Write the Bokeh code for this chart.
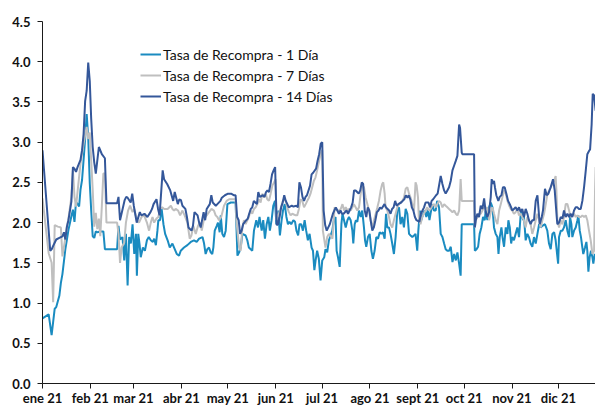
import pandas as pd
from bokeh.plotting import figure
from bokeh.models import Range1d, FixedTicker, Legend, LegendItem
from bokeh.embed import file_html
from bokeh.resources import INLINE

inicio = pd.Timestamp("2021-01-01")
meses = ["ene 21", "feb 21", "mar 21", "abr 21", "may 21", "jun 21",
         "jul 21", "ago 21", "sept 21", "oct 21", "nov 21", "dic 21"]
y_ticks = [0.0, 0.5, 1.0, 1.5, 2.0, 2.5, 3.0, 3.5, 4.0, 4.5]
nombres = ["Tasa de Recompra - 1 Día", "Tasa de Recompra - 7 Días", "Tasa de Recompra - 14 Días"]
colores = ["#1A8BC0", "#BFBFBF", "#34579A"]

# días transcurridos desde el 1 de enero de 2021
dias_1d = [0, 4.0, 5.9, 7.9, 8.9, 10.9, 11.9, 12.9, 14.8, 15.8, 16.8, 18.7, 19.7, 20.7, 21.7, 23.7, 24.6, 25.6, 26.6, 27.6,
           28.6, 29.6, 30.6, 31.5, 32.5, 33.5, 34.5, 35.5, 37.4, 39.4, 40.4, 48.3, 49.2, 50.2, 51.8, 52.9, 54.0, 55.1, 56.1, 57.2,
           58.3, 59.4, 60.5, 61.1, 62.0, 62.9, 63.6, 65.0, 66.3, 67.6, 68.8, 70.1, 71.4, 72.3, 73.4, 74.4, 75.0, 76.1, 77.0, 78.3,
           79.4, 81.0, 82.4, 84.1, 85.6, 86.9, 88.4, 89.5, 91.6, 93.8, 96.0, 98.1, 99.8, 101.4, 103.6, 104.6, 105.6, 106.7, 107.8, 108.9,
           109.9, 110.6, 111.5, 112.8, 113.6, 114.7, 115.4, 116.4, 117.5, 118.6, 119.7, 121.9, 125.0, 126.2, 127.3, 128.3, 129.4, 131.5, 132.6, 133.6,
           135.8, 136.9, 138.4, 139.5, 140.5, 141.9, 142.9, 144.0, 145.1, 146.2, 147.2, 148.3, 149.4, 150.5, 151.4, 152.6, 153.7, 154.8, 155.7, 156.8,
           157.9, 158.9, 159.9, 161.0, 162.4, 163.5, 164.4, 165.5, 166.4, 167.5, 168.6, 169.7, 170.7, 171.8, 172.9, 174.2, 175.1, 176.0, 176.8, 177.8,
           178.9, 180.0, 181.1, 182.4, 183.2, 184.3, 185.4, 186.5, 187.6, 188.6, 189.7, 190.4, 191.3, 192.4, 193.5, 194.2, 195.2, 196.3, 197.4, 198.4,
           199.5, 200.6, 201.2, 202.1, 202.9, 203.8, 204.9, 206.0, 207.0, 208.1, 208.8, 209.6, 210.7, 211.8, 212.9, 213.9, 215.0, 216.1, 217.2, 218.3,
           219.3, 220.4, 221.5, 222.4, 223.2, 224.3, 225.3, 226.4, 227.5, 228.6, 229.7, 230.8, 231.8, 232.9, 234.0, 235.1, 236.2, 237.3, 238.3, 239.4,
           240.5, 241.5, 242.6, 243.3, 244.3, 245.2, 246.5, 247.4, 248.5, 249.5, 250.5, 251.2, 252.3, 253.4, 254.5, 255.5, 256.7, 257.8, 258.9, 260.0,
           261.0, 262.1, 263.2, 264.3, 265.4, 266.5, 267.6, 268.6, 269.7, 270.7, 271.4, 279.4, 279.9, 281.0, 282.0, 283.0, 284.1, 285.2, 286.3, 286.9,
           288.0, 289.1, 290.2, 291.3, 292.3, 293.4, 294.5, 295.2, 296.0, 297.1, 297.8, 298.8, 299.9, 301.0, 301.6, 302.5, 303.4, 304.1, 305.2, 306.3,
           307.4, 308.5, 309.6, 310.2, 311.1, 311.7, 312.8, 313.9, 314.9, 316.0, 317.1, 318.2, 319.3, 320.4, 321.5, 322.5, 323.6, 325.3, 326.8, 327.9,
           329.0, 330.1, 331.2, 332.2, 332.9, 333.8, 334.4, 335.5, 336.6, 337.6, 338.7, 339.8, 340.9, 341.5, 342.4, 343.0, 344.1, 345.2, 346.3, 346.9,
           347.8, 348.6, 349.5, 350.1, 351.2, 352.1, 352.7, 353.4, 354.2, 355.1, 356.0, 356.6, 357.5, 358.1]
tasa_1d = [0.81, 0.86, 0.60, 0.93, 0.95, 1.09, 1.25, 1.36, 1.67, 1.79, 1.91, 2.08, 2.16, 2.01, 2.26, 2.20, 2.41, 2.53, 2.78, 3.04,
           3.35, 3.06, 2.49, 2.16, 1.83, 1.81, 1.89, 1.88, 1.89, 1.89, 1.67, 1.67, 1.96, 1.79, 1.82, 1.53, 1.86, 1.22, 1.82, 1.74,
           1.98, 1.61, 1.86, 1.34, 1.86, 1.72, 1.57, 1.69, 1.65, 1.78, 1.82, 1.78, 1.76, 1.80, 1.72, 1.90, 2.03, 2.03, 2.19, 1.98,
           1.86, 1.78, 1.69, 1.74, 1.67, 1.61, 1.59, 1.65, 1.69, 1.72, 1.76, 1.78, 1.76, 1.80, 1.82, 1.74, 1.61, 1.67, 1.69, 1.63,
           1.61, 1.69, 1.90, 1.96, 2.00, 1.88, 2.09, 1.86, 1.82, 1.90, 2.23, 2.25, 2.25, 1.59, 1.63, 1.69, 1.86, 1.84, 1.78, 1.69,
           1.65, 1.90, 2.03, 1.94, 2.07, 1.90, 2.03, 1.80, 1.98, 2.07, 1.90, 2.03, 2.21, 2.27, 1.98, 2.15, 1.84, 2.03, 2.15, 2.23,
           2.07, 1.98, 2.01, 1.98, 2.03, 2.01, 1.90, 1.84, 1.98, 1.98, 1.90, 2.03, 1.90, 1.78, 1.86, 1.69, 1.65, 1.41, 1.53, 1.65,
           1.55, 1.28, 1.53, 1.57, 1.67, 1.63, 1.78, 1.84, 1.90, 2.03, 2.07, 1.65, 1.57, 1.45, 1.98, 2.11, 2.03, 1.94, 2.03, 2.07,
           2.03, 1.90, 1.74, 1.98, 2.03, 2.01, 2.15, 2.07, 2.15, 1.94, 1.78, 1.70, 1.82, 1.86, 1.65, 1.55, 1.65, 1.82, 1.80, 1.88,
           1.86, 1.88, 1.80, 2.11, 1.94, 1.94, 1.86, 1.74, 1.61, 1.82, 2.15, 2.19, 1.98, 2.07, 1.94, 2.17, 2.11, 1.86, 1.84, 1.82,
           1.84, 1.86, 1.65, 1.90, 2.15, 2.03, 2.11, 2.15, 2.07, 2.17, 2.03, 2.11, 2.23, 2.15, 2.15, 2.27, 2.19, 1.86, 1.82, 1.74,
           1.67, 1.65, 1.65, 1.70, 1.51, 1.61, 1.53, 1.63, 1.49, 1.34, 1.98, 1.98, 1.65, 1.67, 1.70, 1.86, 1.94, 2.07, 2.03, 2.15,
           2.03, 2.19, 2.25, 2.19, 1.94, 1.86, 1.82, 1.61, 1.82, 1.94, 1.82, 1.70, 1.94, 1.86, 2.03, 1.94, 1.74, 1.82, 1.78, 1.86,
           1.94, 1.82, 2.11, 2.13, 2.03, 2.07, 1.78, 1.86, 1.82, 1.74, 1.70, 1.82, 1.74, 1.86, 1.98, 1.94, 1.96, 1.98, 1.90, 1.74,
           1.67, 1.86, 1.88, 1.78, 1.65, 1.49, 1.82, 1.90, 1.90, 1.94, 2.03, 1.90, 1.82, 2.07, 1.98, 1.82, 1.90, 1.94, 2.03, 2.09,
           1.90, 1.82, 1.69, 1.61, 1.69, 1.76, 1.65, 1.39, 1.57, 1.65, 1.57, 1.49, 1.61, 1.57]

dias_7d = [0, 4.0, 5.9, 6.9, 7.9, 9.9, 11.9, 12.9, 14.8, 15.8, 16.8, 18.7, 19.7, 20.7, 21.7, 23.7, 24.6, 25.6, 26.6, 28.6,
           29.6, 30.6, 31.5, 32.5, 33.5, 34.5, 35.5, 36.5, 37.4, 38.4, 39.4, 40.4, 41.4, 48.3, 49.2, 50.2, 51.2, 52.9, 54.0, 55.4,
           56.7, 58.3, 59.4, 61.1, 62.5, 64.1, 65.8, 67.6, 69.0, 70.1, 71.2, 72.3, 73.8, 75.0, 76.1, 77.5, 78.8, 81.0, 83.1, 84.1,
           85.2, 86.2, 87.8, 89.1, 90.6, 92.0, 93.8, 95.3, 96.4, 97.6, 99.2, 100.7, 102.0, 103.1, 104.6, 106.3, 107.8, 109.4, 111.0, 112.1,
           113.2, 114.3, 115.7, 117.5, 119.2, 120.8, 125.0, 125.5, 127.3, 128.3, 129.4, 130.4, 131.5, 132.6, 133.6, 134.7, 135.8, 136.9, 138.0, 139.1,
           140.1, 141.2, 142.3, 143.4, 144.5, 145.5, 146.6, 147.7, 148.8, 149.9, 150.9, 151.5, 153.0, 154.1, 155.2, 156.3, 157.4, 158.4, 159.5, 160.6,
           161.7, 163.9, 164.9, 166.0, 167.1, 168.2, 169.3, 170.4, 171.4, 172.5, 173.5, 175.7, 176.7, 177.8, 178.9, 180.0, 181.1, 181.5, 183.2, 184.3,
           185.4, 187.7, 189.1, 190.9, 192.0, 193.1, 194.2, 195.2, 196.3, 197.4, 198.4, 199.5, 200.6, 201.6, 202.7, 203.8, 204.9, 206.0, 207.0, 208.1,
           209.2, 210.3, 211.4, 212.4, 213.5, 214.6, 215.7, 216.8, 217.8, 218.9, 219.9, 220.6, 221.5, 222.1, 223.2, 224.3, 225.3, 226.4, 227.5, 228.6,
           229.7, 230.8, 231.8, 232.9, 234.0, 235.1, 236.2, 237.3, 238.3, 239.4, 240.5, 241.5, 242.2, 243.1, 243.6, 244.7, 245.8, 246.9, 248.0, 249.1,
           250.1, 251.2, 252.3, 253.4, 254.6, 255.6, 256.7, 257.8, 258.9, 260.0, 261.0, 262.1, 263.2, 264.3, 265.4, 266.5, 267.6, 268.6, 269.7, 270.7,
           271.4, 279.4, 279.9, 280.5, 281.5, 282.6, 283.7, 284.8, 285.9, 286.9, 288.0, 289.1, 290.2, 291.3, 292.3, 293.4, 294.5, 295.6, 296.7, 297.8,
           298.8, 299.9, 301.0, 302.1, 303.1, 304.1, 305.2, 306.3, 307.4, 308.5, 309.6, 310.6, 311.7, 312.8, 313.9, 314.9, 316.0, 317.1, 318.2, 319.3,
           320.4, 321.5, 322.5, 323.6, 324.7, 325.8, 326.9, 328.0, 329.0, 330.1, 331.2, 332.2, 332.7, 333.3, 334.4, 335.4, 336.6, 337.6, 338.7, 339.8,
           340.9, 341.9, 343.0, 344.1, 345.2, 346.3, 347.3, 348.4, 349.5, 350.6, 351.7, 352.7, 353.8, 354.9, 356.0, 357.1, 357.7, 358.1]
tasa_7d = [2.30, 1.62, 1.50, 1.01, 1.97, 1.95, 1.94, 1.58, 1.81, 1.95, 2.05, 2.32, 2.65, 2.32, 2.20, 2.57, 2.73, 2.86, 2.98, 3.19,
           3.04, 3.12, 2.78, 2.41, 1.95, 2.12, 1.92, 2.05, 1.83, 2.20, 2.61, 2.61, 2.00, 2.00, 1.86, 1.50, 1.69, 1.75, 2.00, 2.15,
           2.21, 2.13, 2.17, 2.03, 2.00, 2.07, 2.09, 2.00, 1.90, 2.00, 2.07, 2.00, 2.05, 2.07, 2.17, 2.19, 2.17, 2.17, 2.21, 2.17,
           2.15, 2.17, 2.15, 2.09, 2.15, 2.09, 2.00, 1.80, 1.84, 1.96, 1.86, 1.96, 2.00, 1.90, 2.05, 2.09, 2.13, 2.17, 2.15, 2.09,
           2.07, 2.03, 2.07, 2.21, 2.27, 2.29, 2.29, 2.03, 1.69, 1.65, 1.94, 2.03, 1.98, 2.03, 2.07, 2.15, 2.11, 2.17, 2.19, 2.23,
           2.29, 2.25, 2.36, 2.31, 2.36, 2.29, 2.27, 2.36, 2.46, 2.50, 2.54, 2.03, 2.11, 2.17, 2.25, 2.29, 2.27, 2.19, 2.13, 2.09,
           2.11, 2.09, 2.09, 2.17, 2.29, 2.27, 2.19, 2.23, 2.27, 2.31, 2.36, 2.52, 2.56, 2.65, 2.75, 2.85, 2.90, 1.90, 1.69, 1.82,
           1.86, 1.80, 2.19, 2.15, 2.15, 2.17, 2.23, 2.15, 2.19, 2.15, 2.17, 2.15, 2.19, 2.23, 2.19, 2.15, 2.19, 2.36, 2.46, 2.44,
           2.31, 2.23, 2.15, 2.03, 1.94, 2.03, 2.11, 2.19, 2.27, 2.40, 2.48, 2.50, 2.36, 2.19, 2.15, 2.07, 1.98, 1.94, 2.03, 2.11,
           2.19, 2.23, 2.25, 2.27, 2.31, 2.42, 2.44, 2.36, 2.31, 2.23, 2.15, 2.50, 2.46, 2.31, 2.07, 1.98, 2.07, 2.11, 2.15, 2.19,
           2.15, 2.17, 2.21, 2.23, 2.19, 2.23, 2.27, 2.25, 2.19, 2.23, 2.21, 2.19, 2.17, 2.15, 2.13, 2.15, 2.11, 2.09, 2.15, 2.54,
           2.27, 2.27, 1.94, 2.03, 2.07, 2.11, 2.11, 2.15, 2.19, 2.17, 2.19, 2.03, 2.13, 2.19, 2.11, 2.03, 1.98, 2.15, 2.23, 2.32,
           2.40, 2.36, 2.27, 2.21, 2.17, 2.15, 2.11, 2.13, 2.17, 2.09, 2.11, 2.07, 2.03, 1.94, 2.07, 2.03, 1.98, 1.86, 1.94, 2.03,
           2.11, 2.03, 1.94, 2.03, 2.11, 2.23, 2.36, 2.40, 2.44, 2.48, 2.52, 2.58, 2.40, 2.03, 1.94, 2.03, 1.98, 2.07, 2.23, 2.23,
           2.15, 2.07, 2.09, 2.11, 2.07, 2.09, 2.07, 2.07, 2.09, 2.07, 2.09, 2.03, 1.90, 1.78, 1.61, 1.65, 2.40, 2.69]

dias_14d = [0, 5.0, 6.0, 6.9, 8.9, 10.9, 12.9, 13.9, 14.8, 15.8, 16.8, 18.7, 19.7, 20.7, 21.7, 22.7, 24.6, 25.6, 26.6, 27.6,
            28.6, 29.6, 30.6, 31.5, 32.5, 33.5, 34.5, 36.5, 38.4, 40.4, 41.4, 48.3, 49.2, 50.2, 53.2, 54.2, 55.1, 57.1, 58.1, 59.1,
            61.0, 63.0, 64.0, 66.0, 67.9, 69.9, 70.9, 71.9, 73.8, 74.8, 75.8, 77.8, 78.7, 80.7, 82.7, 84.6, 85.6, 87.6, 88.6, 89.6,
            90.6, 92.5, 93.5, 94.5, 96.5, 97.4, 98.4, 100.4, 101.4, 102.4, 104.3, 105.3, 106.3, 108.3, 109.3, 110.2, 112.2, 113.2, 115.2, 116.1,
            118.1, 120.1, 122.1, 124.0, 125.0, 126.0, 127.0, 127.9, 128.9, 129.9, 131.9, 132.9, 133.8, 134.8, 135.8, 136.8, 137.8, 138.8, 139.7, 140.7,
            142.7, 143.7, 144.7, 145.6, 146.6, 147.6, 148.6, 149.6, 150.6, 151.6, 152.5, 153.5, 154.5, 155.5, 156.5, 157.5, 158.5, 159.4, 161.4, 162.4,
            164.4, 165.3, 166.3, 167.3, 168.3, 169.3, 170.3, 171.2, 172.2, 173.2, 174.2, 175.2, 177.1, 178.1, 179.1, 180.1, 181.1, 182.0, 183.0, 184.0,
            185.0, 186.0, 188.0, 188.9, 189.9, 190.9, 191.9, 192.9, 193.9, 194.9, 196.8, 197.8, 198.8, 199.8, 200.8, 201.7, 202.7, 203.7, 204.7, 205.7,
            206.7, 207.6, 208.6, 209.6, 210.6, 211.6, 212.6, 213.5, 214.5, 215.5, 216.5, 217.5, 218.5, 219.4, 221.4, 222.4, 223.4, 224.4, 225.3, 226.3,
            227.3, 228.3, 229.3, 230.3, 232.2, 233.2, 234.2, 235.2, 236.2, 237.1, 238.1, 239.1, 240.1, 241.1, 242.1, 244.0, 245.0, 246.0, 247.0, 248.0,
            248.9, 249.9, 250.9, 251.9, 252.9, 254.8, 255.8, 257.8, 258.9, 260.0, 261.0, 262.1, 263.2, 264.3, 265.4, 266.5, 267.6, 268.6, 269.7, 270.3,
            271.4, 271.8, 279.4, 279.9, 280.5, 281.5, 282.6, 283.7, 284.8, 285.9, 286.9, 288.0, 289.1, 290.2, 290.8, 291.6, 292.3, 292.9, 293.8, 295.1,
            296.0, 297.1, 298.1, 299.2, 300.3, 301.4, 302.5, 303.4, 304.1, 305.2, 306.3, 307.4, 308.5, 309.6, 310.6, 311.7, 312.8, 313.9, 314.9, 316.0,
            317.1, 318.2, 319.3, 320.4, 321.9, 323.2, 324.0, 325.3, 326.4, 327.5, 329.0, 330.5, 331.6, 332.9, 333.3, 334.4, 335.5, 336.6, 337.6, 338.7,
            339.8, 340.9, 341.9, 343.0, 344.1, 345.2, 346.3, 347.3, 348.4, 349.5, 350.6, 351.7, 352.7, 353.8, 354.5, 355.5, 356.2, 357.1, 358.1]
tasa_14d = [2.90, 1.65, 1.67, 1.71, 1.79, 1.81, 1.83, 1.88, 1.79, 1.95, 2.03, 2.26, 2.69, 2.67, 2.63, 2.69, 2.78, 2.90, 3.10, 3.51,
            3.64, 3.99, 3.76, 3.30, 2.94, 2.75, 2.61, 2.94, 2.85, 2.80, 2.24, 2.24, 2.32, 2.03, 2.28, 2.32, 2.31, 2.25, 2.36, 2.21,
            2.00, 2.13, 2.09, 2.11, 2.07, 2.13, 2.17, 2.23, 2.29, 2.17, 2.09, 2.65, 2.54, 2.48, 2.40, 2.27, 2.38, 2.23, 2.29, 2.28,
            2.21, 2.17, 2.07, 1.94, 1.90, 1.96, 2.13, 2.09, 2.00, 1.94, 2.13, 2.03, 2.17, 2.23, 2.34, 2.25, 2.21, 2.23, 2.27, 2.31,
            2.34, 2.36, 2.36, 2.34, 2.34, 2.07, 2.03, 1.86, 1.90, 1.98, 2.03, 2.05, 2.11, 2.17, 2.19, 2.27, 2.25, 2.23, 2.38, 2.32,
            2.34, 2.32, 2.38, 2.40, 2.38, 2.48, 2.60, 2.65, 2.69, 1.97, 1.98, 2.07, 2.19, 2.25, 2.34, 2.27, 2.23, 2.19, 2.21, 2.20,
            2.21, 2.19, 2.50, 2.44, 2.32, 2.27, 2.32, 2.34, 2.40, 2.46, 2.60, 2.62, 2.67, 2.77, 2.85, 2.98, 3.00, 2.15, 1.97, 1.90,
            1.94, 1.98, 2.11, 2.15, 2.19, 2.15, 2.11, 2.15, 2.11, 2.11, 2.15, 2.11, 2.15, 2.19, 2.25, 2.40, 2.40, 2.38, 2.36, 2.40,
            2.50, 2.48, 2.15, 2.07, 2.19, 2.15, 2.01, 1.90, 1.94, 2.03, 2.13, 2.15, 2.19, 2.17, 2.23, 2.19, 2.17, 2.15, 2.11, 2.17,
            2.19, 2.27, 2.21, 2.23, 2.25, 2.27, 2.29, 2.34, 2.31, 2.34, 2.29, 2.19, 2.15, 2.07, 2.03, 2.01, 2.11, 2.15, 2.19, 2.25,
            2.25, 2.25, 2.19, 2.27, 2.29, 2.34, 2.36, 2.58, 2.48, 2.40, 2.36, 2.40, 2.44, 2.52, 2.65, 2.71, 2.77, 2.83, 3.22, 3.18,
            2.87, 2.85, 2.85, 1.94, 2.03, 2.11, 2.07, 2.21, 2.17, 2.30, 2.13, 2.07, 2.13, 2.32, 2.54, 2.48, 2.52, 2.44, 2.34, 2.27,
            2.32, 2.34, 2.44, 2.44, 2.36, 2.27, 2.23, 2.19, 2.15, 2.17, 2.19, 2.15, 2.19, 2.13, 2.17, 2.07, 2.17, 2.11, 2.03, 1.98,
            2.03, 2.03, 2.27, 2.34, 1.98, 2.07, 2.15, 2.42, 2.34, 2.36, 2.44, 2.54, 2.40, 2.07, 1.98, 2.00, 2.07, 2.05, 2.15, 2.07,
            2.11, 2.07, 2.11, 2.07, 2.15, 2.19, 2.19, 2.17, 2.17, 2.27, 2.44, 2.65, 2.85, 2.89, 2.91, 3.22, 3.60, 3.58, 3.39]

meses_inicio = pd.date_range("2021-01-01", periods=12, freq="MS")


def fechas(dias):
    return inicio + pd.to_timedelta(dias, unit="D")


p = figure(width=595, height=408, x_axis_type="datetime", output_backend="svg", toolbar_location=None,
           min_border_left=42, min_border_right=0, min_border_top=21, min_border_bottom=24)
p.x_range = Range1d(inicio, inicio + pd.Timedelta(days=358))
p.y_range = Range1d(0, 4.5)
p.outline_line_color = None
p.xgrid.visible = False
p.ygrid.visible = False

series = [(dias_1d, tasa_1d), (dias_7d, tasa_7d), (dias_14d, tasa_14d)]
renderers = []
for (d, v), c in zip(series, colores):
    renderers.append(p.line(fechas(d), v, line_color=c, line_width=2))

ticks_ms = [int(t.value // 10**6) for t in meses_inicio]
p.xaxis.ticker = FixedTicker(ticks=ticks_ms)
p.xaxis.major_label_overrides = {t: m for t, m in zip(ticks_ms, meses)}
p.yaxis.ticker = FixedTicker(ticks=y_ticks)
p.yaxis.major_label_overrides = {t: f"{t:.1f}" for t in y_ticks}

for ax in (p.xaxis[0], p.yaxis[0]):
    ax.axis_line_color = "#1a1a1a"
    ax.major_tick_line_color = "#1a1a1a"
    ax.minor_tick_line_color = None
    ax.major_tick_out = 5
    ax.major_tick_in = 0
    ax.major_label_text_font = "Lato"
    ax.major_label_text_font_style = "bold"
    ax.major_label_text_font_size = "13px"
    ax.major_label_text_color = "#111111"
p.xaxis.major_label_standoff = 1
p.yaxis.major_label_standoff = 7

legend = Legend(items=[LegendItem(label=n, renderers=[r]) for n, r in zip(nombres, renderers)],
                location=(98, 277), orientation="vertical",
                label_text_font="Lato", label_text_font_size="14px", label_text_color="#111111",
                glyph_width=21, glyph_height=20, label_height=20, label_standoff=2,
                spacing=1, padding=0, margin=0,
                background_fill_alpha=0, border_line_alpha=0)
p.add_layout(legend, "center")

open("out.html", "w").write(file_html(p, INLINE))
